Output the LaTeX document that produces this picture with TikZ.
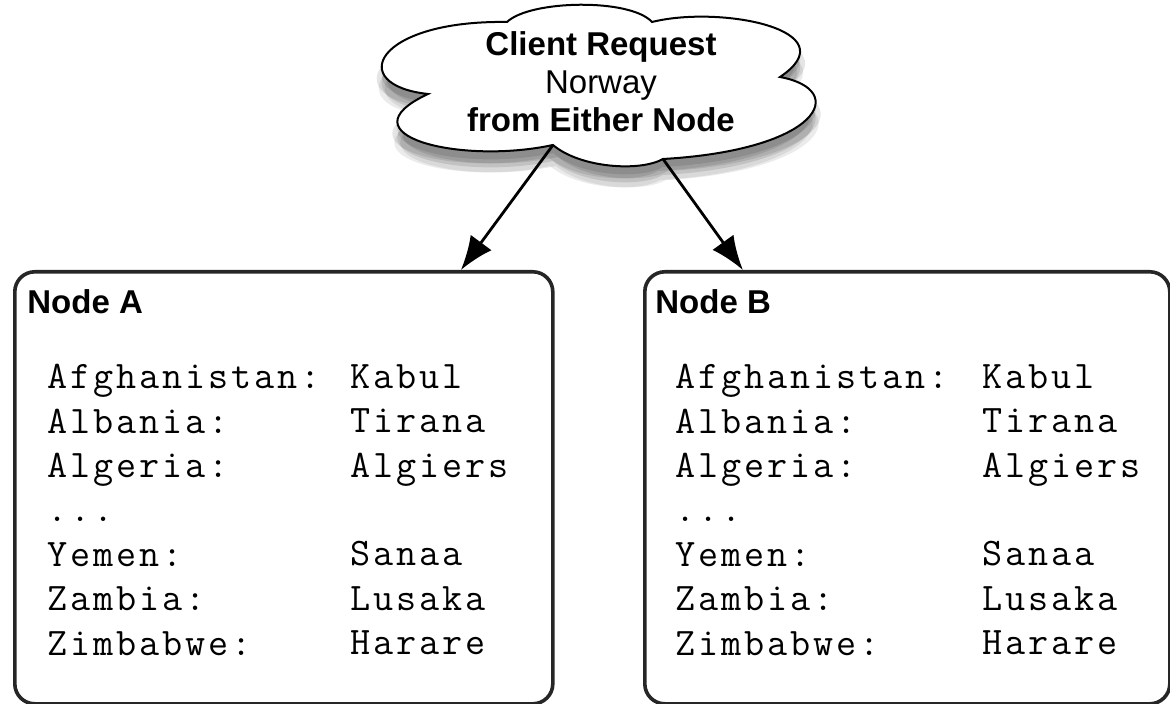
\documentclass[tikz,border=0pt]{standalone}
\usepackage{fontspec}
\setsansfont{Liberation Sans}
\newfontfamily\codefont{Latin Modern Mono}[LetterSpace=7.4]
\usetikzlibrary{calc,arrows.meta,backgrounds}
\newcommand{\linecolor}{black!85}
\newcommand{\boxthick}{1.8pt}
\newcommand{\shadecolor}{black}
\newcommand{\cloudpath}{(428,94) .. controls (345,85) and (375,20) .. (507,22)
  .. controls (530,0) and (630,-2) .. (652,22)
  .. controls (720,5) and (850,30) .. (780,77)
  .. controls (850,90) and (820,150) .. (663,159)
  .. controls (640,172) and (580,168) .. (553,145)
  .. controls (460,165) and (340,135) .. (428,94) -- cycle}
\newcommand{\countries}{Afghanistan:\\Albania:\\Algeria:\\...\\Yemen:\\Zambia:\\Zimbabwe:}
\newcommand{\capitals}{Kabul\\Tirana\\Algiers\\\mbox{}\\Sanaa\\Lusaka\\Harare}

\begin{document}
\begin{tikzpicture}[x=0.5pt,y=-0.5pt,
  store/.style={draw=\linecolor, line width=\boxthick, rounded corners=10pt,
    minimum width=#1, minimum height=216pt, inner sep=0pt, anchor=north west},
  title/.style={font=\sffamily\bfseries\fontsize{16.5}{19}\selectfont, inner sep=0pt, anchor=west},
  column/.style={font=\codefont\fontsize{19.5}{22.2}\selectfont, align=left, inner sep=0pt, anchor=north west},
  request/.style={-{Latex[length=17pt,width=13pt]}, line width=1.4pt}]
\useasboundingbox (0,0) rectangle (1170,704);
%cloud
\draw[fill=white, line width=1pt] \cloudpath;
\begin{scope}[on background layer]
\fill[\shadecolor, opacity=0.10, shift={(0,8)}] \cloudpath;
\fill[\shadecolor, opacity=0.10, shift={(-5,12)}] \cloudpath;
\fill[\shadecolor, opacity=0.10, shift={(5,12)}] \cloudpath;
\fill[\shadecolor, opacity=0.10, shift={(0,16)}] \cloudpath;
\fill[\shadecolor, opacity=0.08, shift={(-3,21)}] \cloudpath;
\fill[\shadecolor, opacity=0.08, shift={(3,21)}] \cloudpath;
\end{scope}
\node[font=\sffamily\fontsize{16.5}{19}\selectfont, align=center, inner sep=0pt] (req) at (601,82)
  {\textbf{Client Request}\\Norway\\\textbf{from Either Node}};
\coordinate (cuspa) at (553,145);
\coordinate (cuspb) at (663,159);
%node a
\node[store=269pt] (boxa) at (13,270) {};
\node[title] (titlea) at (27,302) {Node A};
\node[column] (namesa) at (47,364) {\countries};
\node[column] (capsa) at (350,364) {\capitals};
%node b
\node[store=262.5pt] (boxb) at (643,270) {};
\node[title] (titleb) at (655,302) {Node B};
\node[column] (namesb) at (675,364) {\countries};
\node[column] (capsb) at (982,364) {\capitals};
%requests
\draw[request] (cuspa) -- ($(boxa.north west)!0.827!(boxa.north east)$);
\draw[request] (cuspb) -- ($(boxb.north west)!0.189!(boxb.north east)$);
\end{tikzpicture}
\end{document}
